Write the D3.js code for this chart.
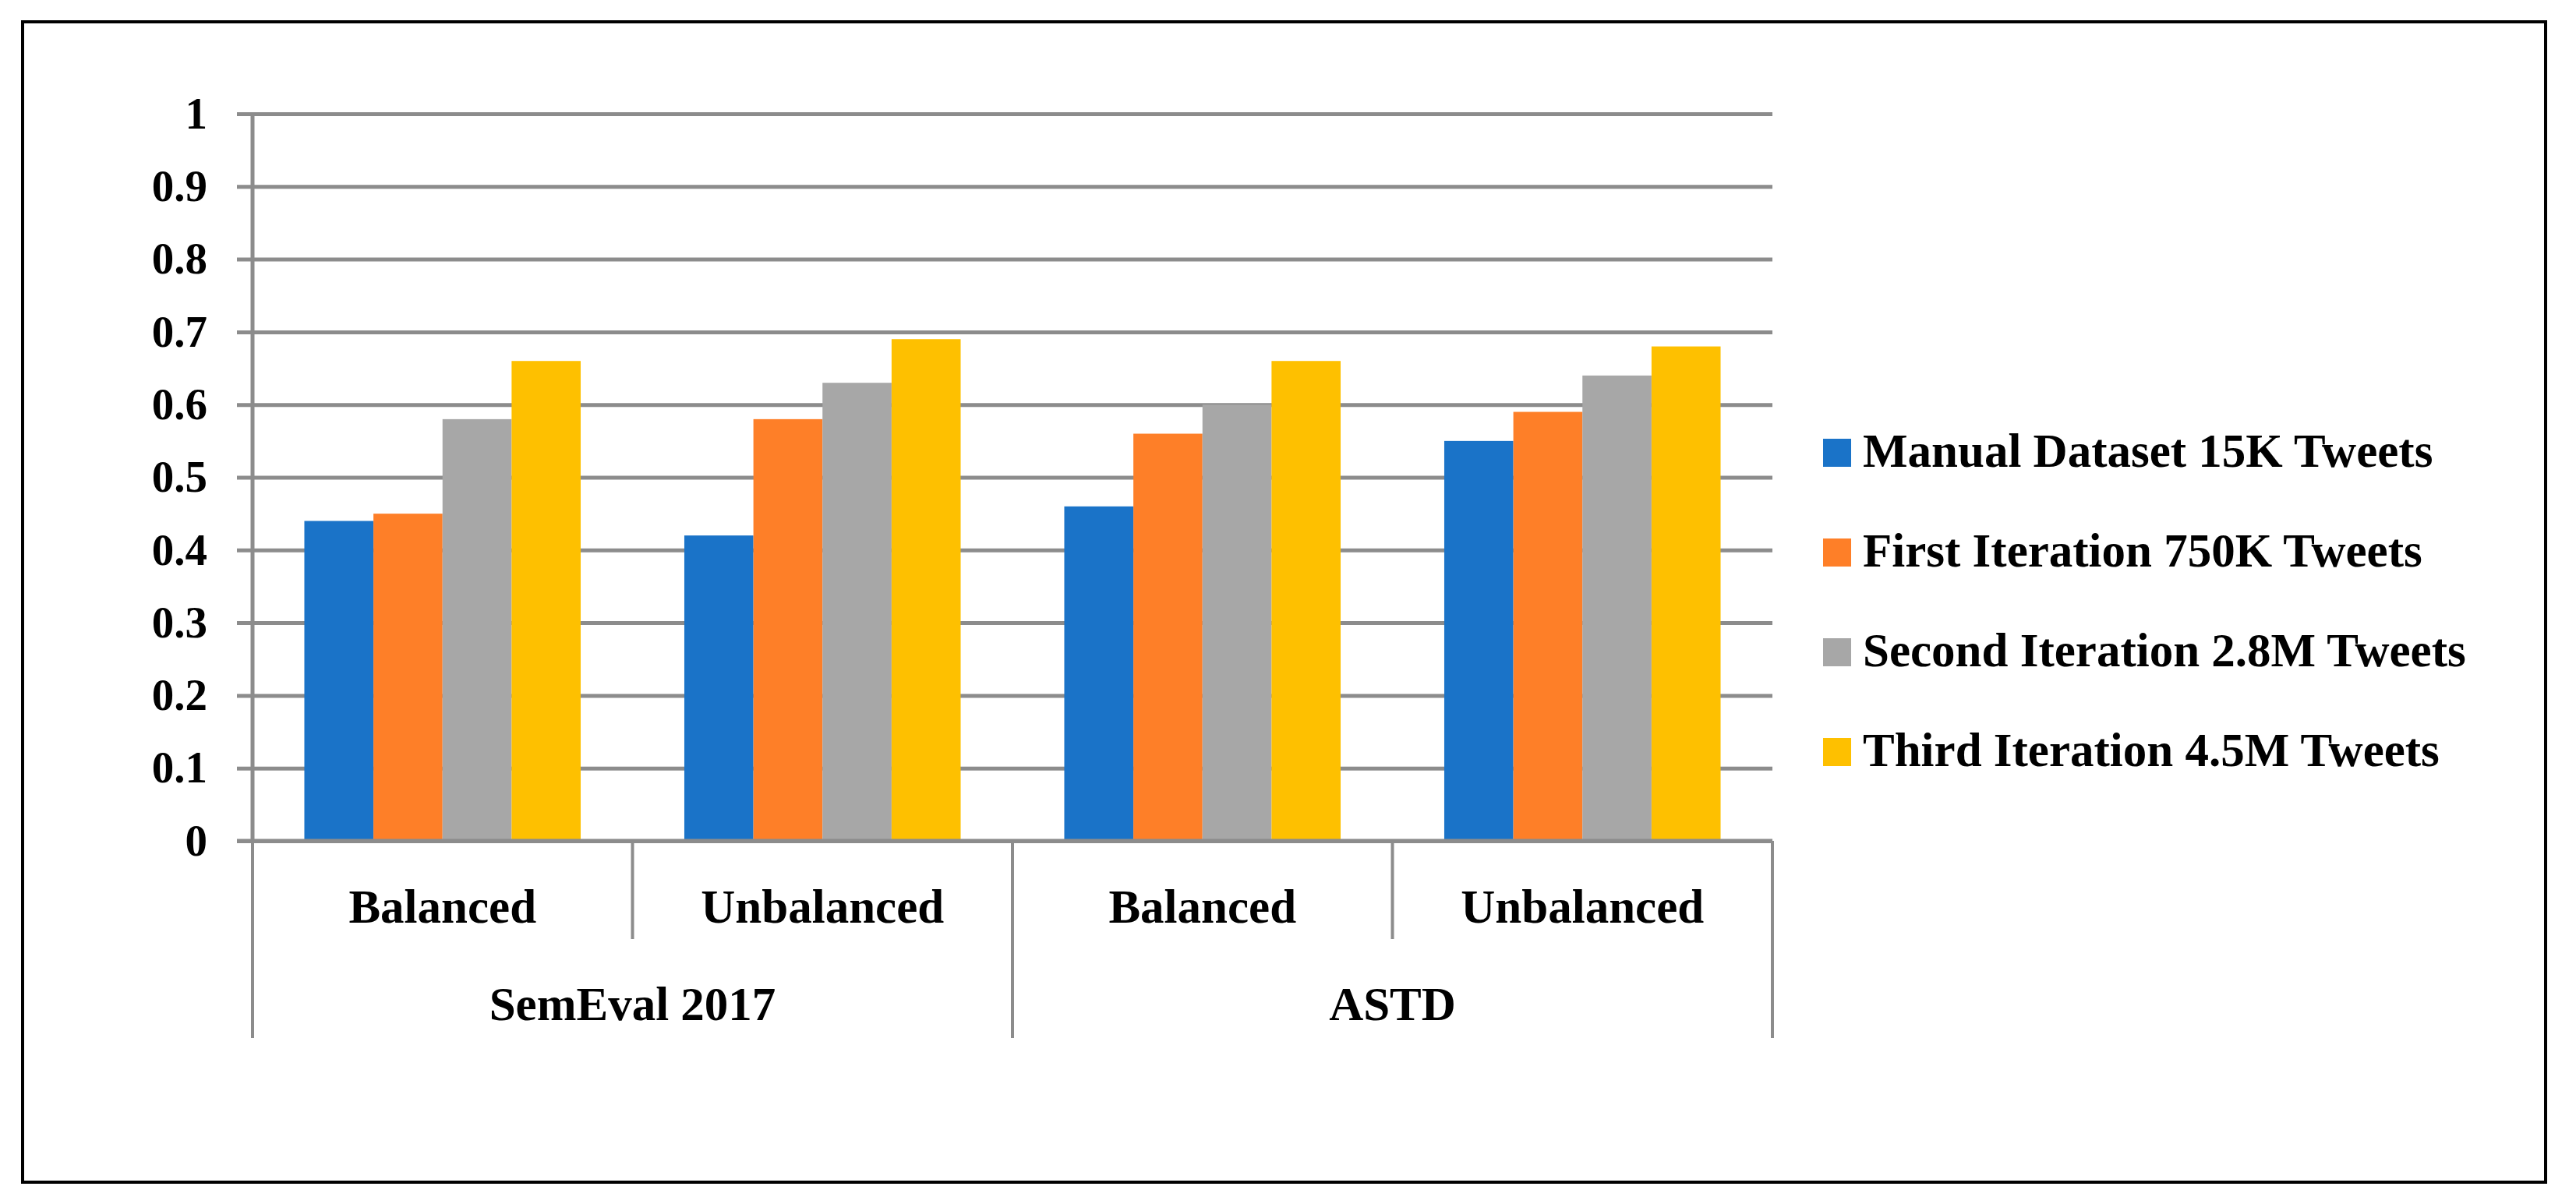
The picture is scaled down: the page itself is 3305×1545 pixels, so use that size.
<!DOCTYPE html>
<html>
<head>
<meta charset="utf-8">
<script src="https://cdn.jsdelivr.net/npm/d3@7"></script>
<style>
  body { margin: 0; background: #fff; }
  text { font-family: "Liberation Serif", "DejaVu Serif", serif; font-weight: bold; fill: #000; }
</style>
</head>
<body>
<svg id="chart" width="3305" height="1545"></svg>
<script>
// categories (two levels) and series
const datasets = ['SemEval 2017', 'ASTD'];
const balance = ['Balanced', 'Unbalanced'];
const seriesNames = ['Manual Dataset 15K Tweets', 'First Iteration 750K Tweets',
  'Second Iteration 2.8M Tweets', 'Third Iteration 4.5M Tweets'];
const seriesColors = ['#1A73C8', '#FE7F28', '#A7A7A7', '#FEC000'];

// values, one list per series, in order SemEval Bal, SemEval Unbal, ASTD Bal, ASTD Unbal
const manualVals = [0.44, 0.42, 0.46, 0.55];
const firstVals = [0.45, 0.58, 0.56, 0.59];
const secondVals = [0.58, 0.63, 0.60, 0.64];
const thirdVals = [0.66, 0.69, 0.66, 0.68];
const yTicks = [0, 0.1, 0.2, 0.3, 0.4, 0.5, 0.6, 0.7, 0.8, 0.9, 1];

const allVals = [manualVals, firstVals, secondVals, thirdVals];

// flat list of sub categories
const cats = [];
datasets.forEach(d => balance.forEach(b => cats.push(d + '|' + b)));

const svg = d3.select('#chart');
const plotL = 324, plotR = 2274, plotT = 146, plotB = 1079;
const gridColor = '#8C8C8C';

// outer frame
svg.append('rect')
  .attr('x', 29).attr('y', 28).attr('width', 3237).attr('height', 1489)
  .attr('fill', 'none').attr('stroke', '#000').attr('stroke-width', 4);

const x0 = d3.scaleBand().domain(cats).range([plotL, plotR]).padding(0);
const x1 = d3.scaleBand().domain(seriesNames).range([0, x0.bandwidth()])
  .paddingInner(0).paddingOuter(0.75);
const y = d3.scaleLinear().domain([0, 1]).range([plotB, plotT]);

// gridlines + y labels
const yAxis = d3.axisLeft(y).tickValues(yTicks)
  .tickSize(plotR - plotL + 20).tickPadding(38)
  .tickFormat(d => d3.format('')(+d.toFixed(1)));
const gy = svg.append('g').attr('transform', `translate(${plotR},0)`).call(yAxis);
gy.select('.domain').remove();
gy.selectAll('.tick line').attr('stroke', gridColor).attr('stroke-width', 5);
gy.selectAll('.tick text').attr('font-size', 57).attr('dy', '0.32em')
  .style('font-family', '"Liberation Serif", serif').style('font-weight', 'bold').attr('fill', '#000');

// bars
cats.forEach((c, ci) => {
  const g = svg.append('g').attr('transform', `translate(${x0(c)},0)`);
  g.selectAll('rect')
    .data(seriesNames.map((s, si) => ({ s: s, v: allVals[si][ci], col: seriesColors[si] })))
    .enter().append('rect')
    .attr('x', d => x1(d.s))
    .attr('y', d => y(d.v))
    .attr('width', x1.bandwidth())
    .attr('height', d => y(0) - y(d.v))
    .attr('fill', d => d.col);
});

// vertical axis line and zero line on top of bars
svg.append('line').attr('x1', plotL).attr('x2', plotL).attr('y1', plotT).attr('y2', plotB)
  .attr('stroke', gridColor).attr('stroke-width', 5);
svg.append('line').attr('x1', plotL - 20).attr('x2', plotR).attr('y1', plotB).attr('y2', plotB)
  .attr('stroke', gridColor).attr('stroke-width', 5);

// category dividers below axis
const groupW = x0.bandwidth() * balance.length;
cats.forEach((c, ci) => {
  if (ci % balance.length !== 0) {
    svg.append('line').attr('x1', x0(c)).attr('x2', x0(c)).attr('y1', plotB).attr('y2', 1205)
      .attr('stroke', gridColor).attr('stroke-width', 4);
  }
});
d3.range(datasets.length + 1).forEach(i => {
  const xx = plotL + i * groupW;
  svg.append('line').attr('x1', xx).attr('x2', xx).attr('y1', plotB).attr('y2', 1332)
    .attr('stroke', gridColor).attr('stroke-width', 4);
});

// category labels
svg.selectAll('text.sub').data(cats).enter().append('text')
  .attr('class', 'sub')
  .attr('x', d => x0(d) + x0.bandwidth() / 2).attr('y', 1184)
  .attr('text-anchor', 'middle').attr('font-size', 61)
  .text(d => d.split('|')[1]);
svg.selectAll('text.grp').data(datasets).enter().append('text')
  .attr('class', 'grp')
  .attr('x', (d, i) => plotL + i * groupW + groupW / 2).attr('y', 1309)
  .attr('text-anchor', 'middle').attr('font-size', 61)
  .text(d => d);

// legend
const legend = svg.append('g').attr('transform', 'translate(2339,0)');
seriesNames.forEach((s, i) => {
  const base = 599 + i * 128;
  legend.append('rect').attr('x', 0).attr('y', base - 36).attr('width', 36).attr('height', 36)
    .attr('fill', seriesColors[i]);
  legend.append('text').attr('x', 51).attr('y', base).attr('font-size', 61).text(s);
});
</script>
</body>
</html>
